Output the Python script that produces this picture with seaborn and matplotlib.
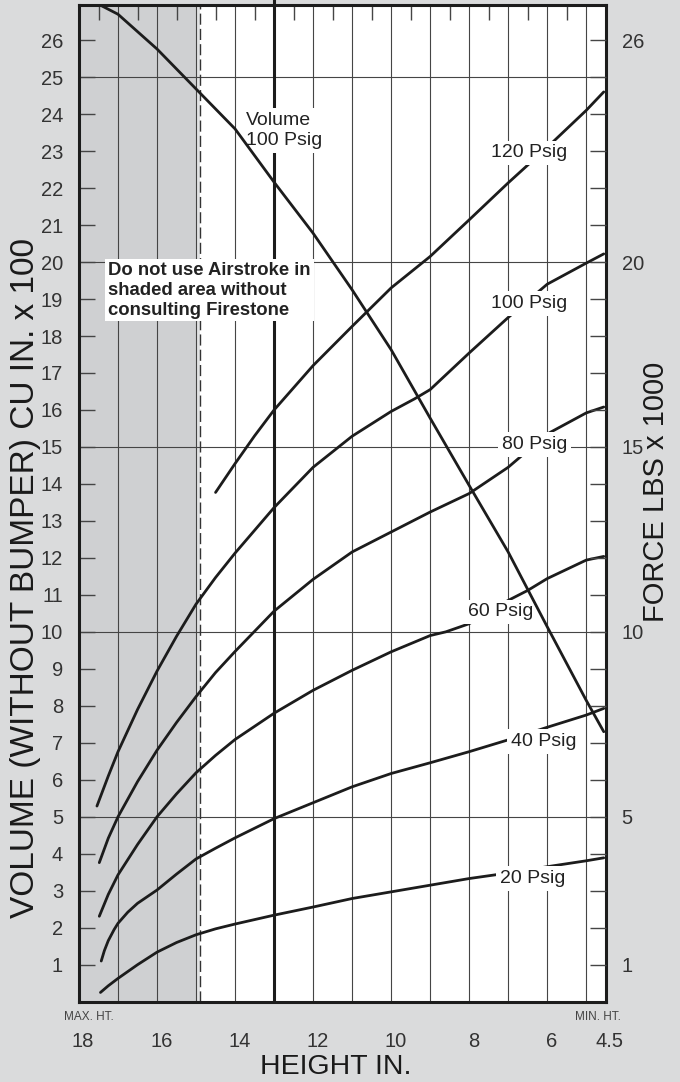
from matplotlib import pyplot as plt
from matplotlib import font_manager
from matplotlib.patches import Polygon
from matplotlib.transforms import ScaledTranslation
import seaborn as sns

# heights (in.) and read values; left scale = volume cu in x100, right = force lbs x1000
h_20 = [17.45, 17.25, 17.0, 16.5, 16.0, 15.5, 15.0, 14.5, 14.0, 13.0, 12.0, 11.0, 10.0, 9.0, 8.0, 7.0, 6.0, 5.0, 4.55]
f_20 = [0.25, 0.43, 0.63, 1.0, 1.34, 1.6, 1.81, 1.97, 2.1, 2.34, 2.56, 2.79, 2.97, 3.15, 3.33, 3.48, 3.65, 3.81, 3.89]

h_40 = [17.43, 17.35, 17.25, 17.1, 17.0, 16.75, 16.5, 16.0, 15.5, 15.0, 14.5, 14.0, 13.0, 12.0, 11.0, 10.0, 9.0, 8.0, 7.0, 6.0, 5.0, 4.55]
f_40 = [1.10, 1.38, 1.65, 1.95, 2.12, 2.42, 2.66, 3.02, 3.45, 3.86, 4.15, 4.43, 4.95, 5.38, 5.81, 6.17, 6.46, 6.76, 7.08, 7.42, 7.75, 7.93]

h_60 = [17.48, 17.25, 17.0, 16.5, 16.0, 15.5, 15.0, 14.5, 14.0, 13.0, 12.0, 11.0, 10.0, 9.0, 8.6, 8.0, 7.0, 6.5, 6.0, 5.0, 4.55]
f_60 = [2.31, 2.9, 3.43, 4.25, 5.0, 5.62, 6.19, 6.66, 7.09, 7.80, 8.42, 8.96, 9.46, 9.9, 10.0, 10.22, 10.85, 11.12, 11.44, 11.94, 12.04]

h_80 = [17.48, 17.25, 17.0, 16.5, 16.0, 15.5, 15.0, 14.5, 14.0, 13.0, 12.0, 11.0, 10.0, 9.0, 8.0, 7.0, 6.0, 5.0, 4.55]
f_80 = [3.76, 4.42, 5.0, 5.95, 6.8, 7.55, 8.25, 8.9, 9.47, 10.56, 11.42, 12.16, 12.70, 13.24, 13.74, 14.45, 15.35, 15.92, 16.08]

h_100 = [17.54, 17.25, 17.0, 16.5, 16.0, 15.5, 15.0, 14.5, 14.0, 13.0, 12.0, 11.0, 10.0, 9.4, 9.0, 8.0, 7.0, 6.0, 5.0, 4.55]
f_100 = [5.29, 6.1, 6.76, 7.9, 8.94, 9.88, 10.75, 11.47, 12.13, 13.36, 14.45, 15.29, 15.96, 16.3, 16.55, 17.54, 18.5, 19.4, 19.97, 20.22]

h_120 = [14.5, 14.0, 13.5, 13.0, 12.0, 11.0, 10.0, 9.0, 8.0, 7.0, 6.0, 5.0, 4.55]
f_120 = [13.77, 14.55, 15.3, 16.0, 17.2, 18.26, 19.3, 20.15, 21.14, 22.14, 23.1, 24.1, 24.6]

h_vol = [17.46, 17.0, 16.0, 15.0, 14.0, 13.0, 12.0, 11.0, 10.0, 9.0, 8.0, 7.0, 6.0, 5.0, 4.55]
v_vol = [26.95, 26.7, 25.76, 24.68, 23.6, 22.16, 20.78, 19.25, 17.63, 15.78, 13.96, 12.16, 10.14, 8.15, 7.3]

x_ticks = [18, 16, 14, 12, 10, 8, 6, 4.5]
x_tick_labels = ["18", "16", "14", "12", "10", "8", "6", "4.5"]
top_ticks = [17.5, 16.5, 15.5, 14.5, 13.5, 12.5, 11.5, 10.5, 9.5, 8.5, 7.5, 6.5, 5.5]
y_ticks = list(range(1, 27))
force_labels = [1, 5, 10, 15, 20, 26]
grid_h = [17, 16, 15, 14, 12, 11, 10, 9, 8, 7, 6, 5]
grid_v = [5, 10, 15, 20, 25]

curve_labels = ["120 Psig", "100 Psig", "80 Psig", "60 Psig", "40 Psig", "20 Psig"]
label_h = [6.46, 6.46, 6.325, 7.19, 6.10, 6.38]
label_v = [22.95, 18.87, 15.06, 10.54, 7.03, 3.34]

note = "Do not use Airstroke in\nshaded area without\nconsulting Firestone"

BG = "#dadbdc"
SHADE = "#cfd0d2"
INK = "#1c1c1c"
GRID = "#454545"
TXT = "#333333"

sns.set_theme(style="white")
installed = {f.name for f in font_manager.fontManager.ttflist}
narrow = "Liberation Sans Narrow" in installed
plt.rcParams["font.family"] = ["Liberation Sans", "DejaVu Sans"]

fig = plt.figure(figsize=(6.8, 10.82), dpi=100, facecolor=BG)
ax = fig.add_axes([79 / 680, 1 - 1001.7 / 1082, 526.7 / 680, 996.7 / 1082])
ax.set_facecolor("white")
ax.set_xlim(18, 4.55)
ax.set_ylim(0, 26.95)

# shaded area and grid
ax.axvspan(18, 15, color=SHADE, lw=0, zorder=0)
ax.axvspan(15, 14.91, color="#e1e2e3", lw=0, zorder=0)
for h in grid_h:
    ax.axvline(h, color=GRID, lw=0.8, zorder=1)
for v in grid_v:
    ax.axhline(v, color=GRID, lw=0.8, zorder=1)
ax.axvline(13, ymax=1.006, color=INK, lw=2.2, zorder=1, clip_on=False)
ax.axvline(14.91, color=TXT, lw=1.0, ls=(0, (8, 3)), zorder=1)

for hs, vs in [(h_20, f_20), (h_40, f_40), (h_60, f_60), (h_80, f_80),
               (h_100, f_100), (h_120, f_120)]:
    sns.lineplot(x=hs, y=vs, ax=ax, color=INK, lw=2.0, sort=False,
                 estimator=None, zorder=2)
# volume line runs over the label boxes
sns.lineplot(x=h_vol, y=v_vol, ax=ax, color=INK, lw=2.0, sort=False,
             estimator=None, zorder=3.5)
ax.set_xlabel("")
ax.set_ylabel("")

for txt, h, v in zip(curve_labels, label_h, label_v):
    ax.text(h, v, txt, ha="center", va="center", fontsize=14, color="#222222",
            zorder=3, bbox=dict(boxstyle="square,pad=0.2", fc="white", ec="none"))
ax.text(13.73, 23.55, "Volume\n100 Psig", ha="left", va="center", fontsize=14,
        color="#222222", linespacing=1.25, zorder=3,
        bbox=dict(boxstyle="square,pad=0.2", fc="white", ec="none"))

# warning note: gray box over the shaded part, white box over the rest
note_fam = ["Liberation Sans Narrow", "Liberation Sans"] if narrow else ["Liberation Sans"]
note_size = 16 if narrow else 13.3
for fc, x0, x1 in [(SHADE, 14.91, 20), ("white", 0, 14.91)]:
    t = ax.text(17.25, 19.24, note, ha="left", va="center", fontsize=note_size,
                family=note_fam, fontweight="bold", color="#222222", linespacing=1.22,
                zorder=3, bbox=dict(boxstyle="square,pad=0.15", fc=fc, ec="none"))
    t.set_clip_path(Polygon([(x0, -5), (x1, -5), (x1, 40), (x0, 40)], closed=True,
                            transform=ax.transData))

# ticks
ax.set_xticks(x_ticks)
ax.set_xticklabels(x_tick_labels)
ax.set_xticks(top_ticks, minor=True)
ax.tick_params(axis="x", which="major", length=0, pad=22, labelsize=14.5, labelcolor=TXT)
ax.tick_params(axis="x", which="minor", top=True, bottom=False, direction="in",
               length=11, width=1, color=GRID)
shift = ScaledTranslation(3 / 72, 0, fig.dpi_scale_trans)
for lbl in ax.get_xticklabels():
    lbl.set_transform(lbl.get_transform() + shift)
ax.set_yticks(y_ticks)
ax.tick_params(axis="y", direction="in", length=11.5, width=1, color=GRID, pad=11.5,
               labelsize=14.5, labelcolor=TXT, left=True, right=False)

ax2 = ax.twinx()
ax2.set_ylim(ax.get_ylim())
ax2.set_yticks(y_ticks)
ax2.set_yticklabels([str(t) if t in force_labels else "" for t in y_ticks])
ax2.tick_params(axis="y", direction="in", length=11.5, width=1, color=GRID, pad=11.5,
                labelsize=14.5, labelcolor=TXT)
for s in ax2.spines.values():
    s.set_visible(False)
for s in ax.spines.values():
    s.set_visible(True)
    s.set_linewidth(2.2)
    s.set_color(INK)
    s.set_zorder(4)

# axis titles
fig.text(25.5 / 680, 1 - 578 / 1082, "VOLUME (WITHOUT BUMPER) CU IN. x 100", rotation=90,
         ha="center", va="center", fontsize=24, color="#1a1a1a")
fig.text(656 / 680, 1 - 492 / 1082, "FORCE LBS x 1000", rotation=90,
         ha="center", va="center", fontsize=21, color="#1a1a1a")
fig.text(336 / 680, 1 - 1066.7 / 1082, "HEIGHT IN.", ha="center", va="center",
         fontsize=20.5, color="#1a1a1a")
fig.text(89 / 680, 1 - 1017 / 1082, "MAX. HT.", ha="center", va="center",
         fontsize=8.5, color="#444444")
fig.text(597.5 / 680, 1 - 1017 / 1082, "MIN. HT.", ha="center", va="center",
         fontsize=8.5, color="#444444")

fig.savefig("out.png", dpi=100, facecolor=BG)
